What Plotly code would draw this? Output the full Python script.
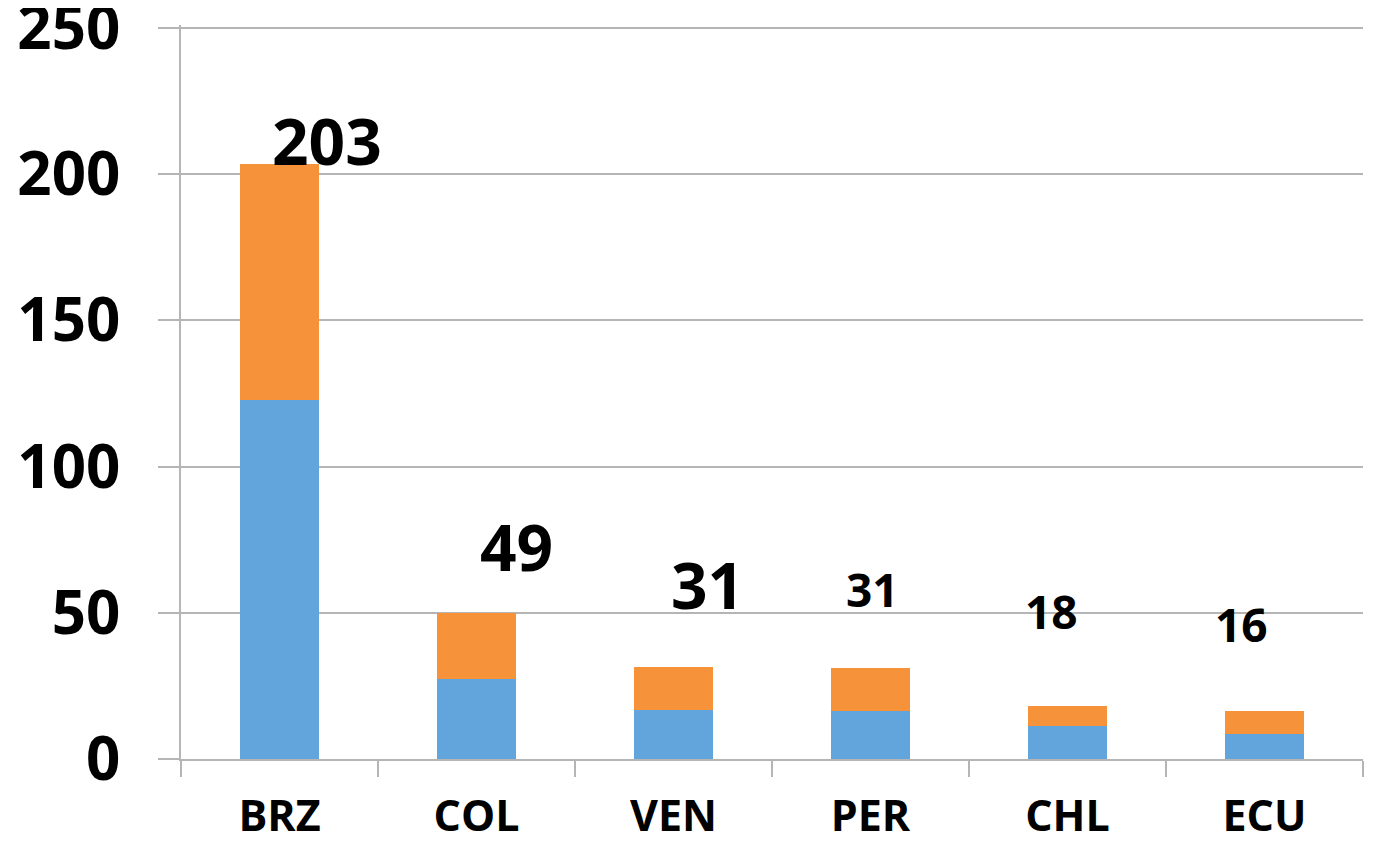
import plotly.graph_objects as go

categories = ["BRZ", "COL", "VEN", "PER", "CHL", "ECU"]
series_blue = [122.7, 27.3, 16.7, 16.4, 11.4, 8.6]
series_orange = [80.8, 22.5, 14.7, 14.7, 6.7, 7.8]
total_labels = ["203", "49", "31", "31", "18", "16"]
y_ticks = [0, 50, 100, 150, 200, 250]

# label styling (offsets in px and font sizes)
label_sizes = [64, 64, 64, 46, 46, 46]
label_xshift = [47, 40, 34, 2, -16, -23]
label_yshift = [23, 67, 83, 79, 95, 87]

FONT = "Open Sans"
GRID = "#b5b5b5"

fig = go.Figure()
fig.add_trace(go.Bar(x=categories, y=series_blue, marker=dict(color="#62A5DC", line=dict(width=0)),
                     hoverinfo="skip"))
fig.add_trace(go.Bar(x=categories, y=series_orange, marker=dict(color="#F6933A", line=dict(width=0)),
                     hoverinfo="skip"))

totals = [b + o for b, o in zip(series_blue, series_orange)]
for i, c in enumerate(categories):
    fig.add_annotation(x=c, y=totals[i], text=f"<b>{total_labels[i]}</b>", showarrow=False,
                       xanchor="center", yanchor="middle",
                       xshift=label_xshift[i], yshift=label_yshift[i],
                       font=dict(family=FONT, size=label_sizes[i], color="black"))

fig.update_layout(
    width=1368, height=843,
    margin=dict(l=173, r=13, t=17, b=92),
    barmode="stack", bargap=0.594,
    showlegend=False,
    plot_bgcolor="white", paper_bgcolor="white",
    font=dict(family=FONT, color="black"),
)
fig.update_xaxes(
    automargin=False,
    showline=True, linecolor=GRID, linewidth=1.5,
    ticks="outside", tickson="boundaries", ticklen=16, tickcolor=GRID, tickwidth=1.5,
    tickfont=dict(family=FONT, size=43, color="black", weight="bold"),
    ticklabelstandoff=19,
    showgrid=False,
)
fig.update_yaxes(
    automargin=False,
    range=[0, 251], tickvals=y_ticks,
    showline=True, linecolor=GRID, linewidth=1.5,
    ticks="outside", ticklen=21, tickcolor=GRID, tickwidth=1.5,
    showgrid=True, gridcolor=GRID, gridwidth=1.5,
    zeroline=False,
    tickfont=dict(family=FONT, size=60, color="black", weight="bold"),
    ticklabelstandoff=26,
    ticklabeloverflow="allow",
)

fig.write_html("out.html")
